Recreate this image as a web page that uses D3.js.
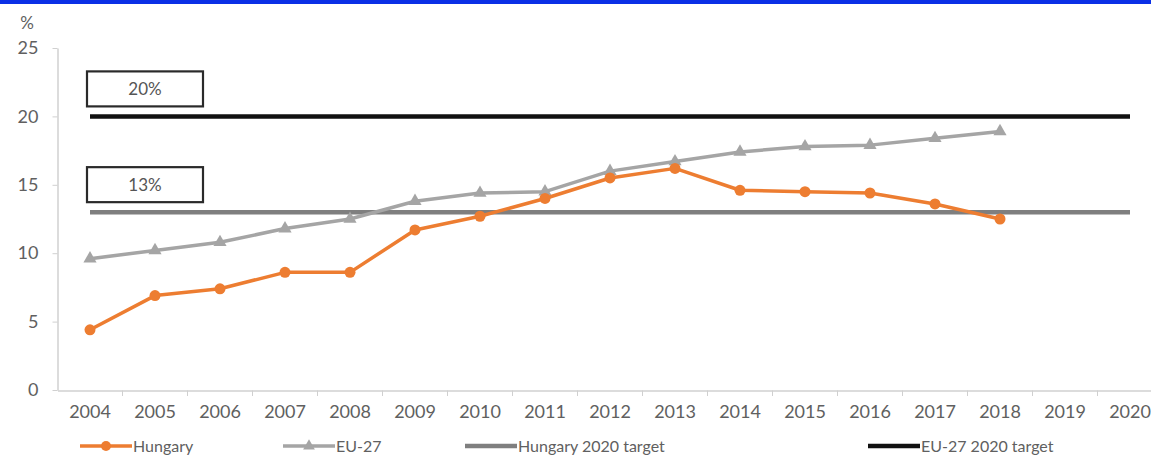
<!DOCTYPE html>
<html><head><meta charset="utf-8">
<script src="https://cdn.jsdelivr.net/npm/d3@7"></script>
<style>
html,body{margin:0;padding:0;background:#fff;}
svg{display:block;font-family:Lato,"Open Sans",sans-serif;}
</style></head>
<body><svg id="chart" width="1151" height="458"></svg>
<script>
const years = ["2004","2005","2006","2007","2008","2009","2010","2011","2012","2013","2014","2015","2016","2017","2018","2019","2020"];
const hungary = [4.4,6.9,7.4,8.6,8.6,11.7,12.7,14.0,15.5,16.2,14.6,14.5,14.4,13.6,12.5,null,null];
const eu27 = [9.6,10.2,10.8,11.8,12.5,13.8,14.4,14.5,16.0,16.7,17.4,17.8,17.9,18.4,18.9,null,null];
const hungaryTarget = 13;
const euTarget = 20;
const yTicks = [0,5,10,15,20,25];
const seriesNames = ["Hungary","EU-27","Hungary 2020 target","EU-27 2020 target"];
const boxLabels = ["20%","13%"];

const svg = d3.select("#chart");
const W = 1151, H = 458;
svg.append("rect").attr("x",0).attr("y",0).attr("width",W).attr("height",4).attr("fill","#0a2fe6");

const x = d3.scaleBand().domain(years).range([57.5, 1162.5]).padding(0);
const cx = d => x(d) + x.bandwidth()/2;
const y = d3.scaleLinear().domain([0,25]).range([390,48]);

const txt = "#606060", axisCol = "#d0d0d0";

// y axis
const ya = svg.append("g").attr("transform","translate(57.5,0)")
  .call(d3.axisLeft(y).tickValues(yTicks).tickSize(5).tickPadding(14).tickSizeOuter(0));
ya.select(".domain").attr("stroke",axisCol).attr("stroke-width",1.5);
ya.selectAll(".tick line").attr("stroke",axisCol);
ya.selectAll(".tick text").attr("fill",txt).attr("font-size",18).attr("font-family","Lato");
svg.append("text").attr("x",27).attr("y",29).attr("text-anchor","middle").attr("fill",txt).attr("font-size",17).text("%");

// x axis
const xa = svg.append("g").attr("transform","translate(0,390.5)")
  .call(d3.axisBottom(x).tickSize(0).tickPadding(15).tickSizeOuter(0));
xa.select(".domain").attr("stroke",axisCol).attr("stroke-width",1.5);
xa.selectAll(".tick text").attr("fill",txt).attr("font-size",18).attr("font-family","Lato");
svg.append("g").selectAll("line").data(years.slice(1)).join("line")
  .attr("x1",d=>x(d)).attr("x2",d=>x(d)).attr("y1",390.5).attr("y2",396)
  .attr("stroke",axisCol);

// target lines
const lineGen = d3.line().defined(d=>d.v!=null).x(d=>cx(d.k)).y(d=>y(d.v));
const mk = arr => years.map((k,i)=>({k, v: arr[i]}));
const euT = years.map(k=>({k,v:euTarget}));
const huT = years.map(k=>({k,v:hungaryTarget}));

svg.append("path").datum(euT).attr("d",lineGen).attr("fill","none").attr("stroke","#111").attr("stroke-width",4.5);
svg.append("path").datum(huT).attr("d",lineGen).attr("fill","none").attr("stroke","#7f7f7f").attr("stroke-width",4.5);

// EU-27 series
const euData = mk(eu27).filter(d=>d.v!=null);
svg.append("path").datum(euData).attr("d",lineGen).attr("fill","none").attr("stroke","#a5a5a5").attr("stroke-width",3.5).attr("stroke-linejoin","round");
const tri = d3.symbol().type(d3.symbolTriangle).size(75);
svg.append("g").selectAll("path").data(euData).join("path")
  .attr("d",tri).attr("transform",d=>`translate(${cx(d.k)},${y(d.v)})`).attr("fill","#a5a5a5");

// Hungary series
const huData = mk(hungary).filter(d=>d.v!=null);
svg.append("path").datum(huData).attr("d",lineGen).attr("fill","none").attr("stroke","#ed7d31").attr("stroke-width",3.5).attr("stroke-linejoin","round");
svg.append("g").selectAll("circle").data(huData).join("circle")
  .attr("cx",d=>cx(d.k)).attr("cy",d=>y(d.v)).attr("r",5.5).attr("fill","#ed7d31");

// label boxes
const boxes = [{label:boxLabels[0], v:euTarget},{label:boxLabels[1], v:hungaryTarget}];
boxes.forEach(b=>{
  const bx = cx(years[0]) - 3, by = y(b.v) - 45, bw = 116, bh = 35;
  svg.append("rect").attr("x",bx).attr("y",by).attr("width",bw).attr("height",bh)
    .attr("fill","#fff").attr("stroke","#2a2a2a").attr("stroke-width",2.2);
  svg.append("text").attr("x",bx+bw/2).attr("y",by+bh/2+6).attr("text-anchor","middle")
    .attr("fill","#555").attr("font-size",17).text(b.label);
});

// legend
const ly = 446;
const legend = [
  {name:seriesNames[0], x:80, color:"#ed7d31", w:3.5, marker:"circle"},
  {name:seriesNames[1], x:283, color:"#a5a5a5", w:3.5, marker:"tri"},
  {name:seriesNames[2], x:465, color:"#7f7f7f", w:4.5, marker:null},
  {name:seriesNames[3], x:868, color:"#111", w:4.5, marker:null}
];
legend.forEach(l=>{
  const g = svg.append("g");
  g.append("line").attr("x1",l.x).attr("x2",l.x+52).attr("y1",ly).attr("y2",ly).attr("stroke",l.color).attr("stroke-width",l.w);
  if(l.marker==="circle") g.append("circle").attr("cx",l.x+26).attr("cy",ly).attr("r",5).attr("fill",l.color);
  if(l.marker==="tri") g.append("path").attr("d",d3.symbol().type(d3.symbolTriangle).size(60)).attr("transform",`translate(${l.x+26},${ly})`).attr("fill",l.color);
  g.append("text").attr("x",l.x+53).attr("y",ly+6).attr("fill",txt).attr("font-size",16).text(l.name);
});
</script></body></html>
